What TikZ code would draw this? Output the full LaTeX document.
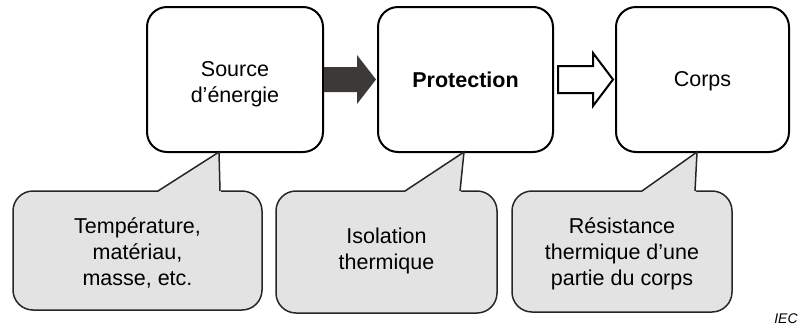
\documentclass[tikz,border=0pt]{standalone}
\usepackage{fontspec}
\setmainfont{Liberation Sans}
\usetikzlibrary{calc}
\definecolor{callgray}{HTML}{E3E3E3}
\definecolor{darkarrow}{HTML}{3D3936}
\tikzset{
  mainbox/.style={draw=black, line width=2pt, fill=white, rounded corners=20pt, inner sep=0pt},
  callout/.style={draw=black!85, line width=1.5pt, fill=callgray, rounded corners=20pt, inner sep=0pt},
  label/.style={inner sep=0pt, align=center, font=\fontsize{21.5}{26}\selectfont},
  tailfill/.style={fill=callgray},
  tailline/.style={draw=black!85, line width=1.5pt, line join=miter},
  darkblock/.style={fill=darkarrow},
  whiteblock/.style={draw=black, line width=2pt, fill=white, line join=miter},
}
\begin{document}
\begin{tikzpicture}[x=1pt,y=-1pt]
\useasboundingbox (0,0) rectangle (798,330);
% main boxes
\node[mainbox, minimum width=176pt, minimum height=145pt] (src) at (235,79.5) {};
\node[mainbox, minimum width=175pt, minimum height=145pt] (prot) at (465.5,79.5) {};
\node[mainbox, minimum width=173pt, minimum height=145pt] (corps) at (702.5,79.5) {};
\node[label] (srct) at (235,84) {Source\\d’énergie};
\node[label] (prott) at (465.5,80) {\textbf{Protection}};
\node[label] (corpst) at (702.5,81) {Corps};
% block arrows
\path[darkblock] (324,67) -- (357,67) -- (357,55) -- (376,79.5) -- (357,104) -- (357,92) -- (324,92) -- cycle;
\draw[whiteblock] (558,66) -- (593,66) -- (593,53) -- (613,79.5) -- (593,106) -- (593,93) -- (558,93) -- cycle;
% callouts
\node[callout, minimum width=249pt, minimum height=119pt] (c1) at (137.5,250.5) {};
\node[callout, minimum width=221pt, minimum height=122pt] (c2) at (386.5,252) {};
\node[callout, minimum width=220pt, minimum height=121pt] (c3) at (622,251.5) {};
% tails
\coordinate (t1) at (219,152);
\coordinate (t2) at (464,152);
\coordinate (t3) at (697,152);
\fill[tailfill] (157,192.5) -- (t1) -- (221,192.5) -- cycle;
\draw[tailline] (158,191) -- (t1) -- (220,191);
\fill[tailfill] (404,192.5) -- (t2) -- (461,192.5) -- cycle;
\draw[tailline] (405,191) -- (t2) -- (460,191);
\fill[tailfill] (641,192.5) -- (t3) -- (696,192.5) -- cycle;
\draw[tailline] (642,191) -- (t3) -- (695,191);
% callout texts
\node[label] (c1t) at (137.5,253) {Température,\\matériau,\\masse, etc.};
\node[label] (c2t) at (386.5,251) {Isolation\\thermique};
\node[label] (c3t) at (622,254) {Résistance\\thermique d’une\\partie du corps};
% IEC label
\node[font=\fontsize{14}{16}\selectfont\itshape, inner sep=0pt] (iec) at (786,319) {IEC};
\end{tikzpicture}
\end{document}
